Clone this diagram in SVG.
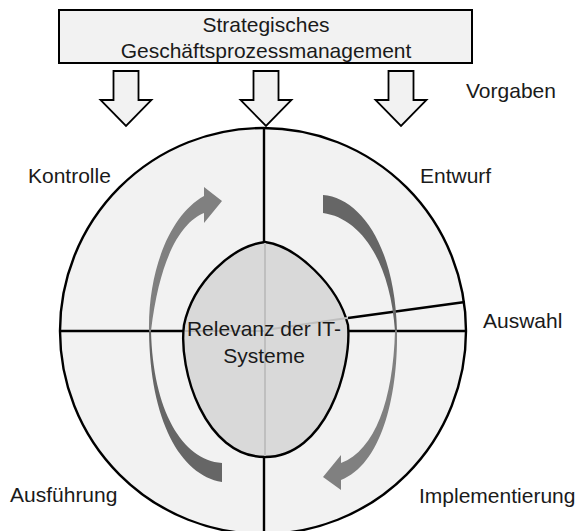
<svg xmlns="http://www.w3.org/2000/svg" width="588" height="531" viewBox="0 0 588 531">
<defs>
<style>
text{font-family:"Liberation Sans",Arial,sans-serif;font-size:21px;fill:#1a1a1a}
.c{text-anchor:middle}
.box{fill:#f2f2f2;stroke:#000;stroke-width:2}
.blk{fill:#f2f2f2;stroke:#000;stroke-width:1.8;stroke-linejoin:miter}
.div{stroke:#000;stroke-width:2.4;fill:none}
.faint{stroke:#bfbfbf;stroke-width:2;fill:none}
.dark{fill:#666666}
.mid{fill:#808080}
</style>
</defs>
<rect width="588" height="531" fill="#ffffff"/>

<g id="cycle">
<circle cx="263" cy="331" r="203" fill="#f2f2f2" stroke="#000" stroke-width="2.4"/>
<line class="div" x1="264" y1="128" x2="264" y2="242"/>
<line class="div" x1="264" y1="456" x2="264" y2="531"/>
<line class="div" x1="60" y1="331" x2="184" y2="331"/>
<line class="div" x1="348" y1="331" x2="466" y2="331"/>
<line class="div" x1="348" y1="318" x2="465" y2="302"/>
</g>

<g id="connectors">
<path id="arrow-top-1" class="blk" d="M113.5,71 H138.5 V100 H151.5 L126,126 L100.5,100 H113.5 Z"/>
<path id="arrow-top-2" class="blk" d="M253.5,71 H278.5 V100 H291.5 L266,126 L240.5,100 H253.5 Z"/>
<path id="arrow-top-3" class="blk" d="M388.5,71 H413.5 V100 H426.5 L401,126 L375.5,100 H388.5 Z"/>
<path id="arrow-kontrolle" class="mid" d="M149,331 C148,270 170,215 204,196 L204,187 L222,201 L204,223 L204,213 C182,222 160,255 151,331 Z"/>
<path id="arrow-ausfuehrung" class="dark" d="M149,331 C150,420 180,475 222,482 L222,463 C182,460 153,410 151,331 Z"/>
<path id="arrow-entwurf" class="dark" d="M323,195 C360,198 395,245 397,331 L395,331 C390,260 360,218 323,213 Z"/>
<path id="arrow-implementierung" class="mid" d="M397,331 C398,400 380,465 341,480 L341,490 L323,477 L341,455 L341,463 C375,450 393,400 395,331 Z"/>
</g>

<g id="center">
<path d="M265,242 C232,246 193,282 184,325 C178,370 205,457 265,457 C325,457 352,370 348,325 C338,285 296,246 265,242 Z" fill="#d9d9d9" stroke="#000" stroke-width="2.4"/>
<line class="faint" x1="265" y1="243" x2="265" y2="456"/>
<line class="faint" x1="185" y1="331" x2="265" y2="331"/>
<line class="faint" x1="265" y1="330" x2="347" y2="318"/>
<text class="c" x="264" y="336" font-size="19.5">Relevanz der IT-</text>
<text class="c" x="264" y="363" font-size="19.5">Systeme</text>
</g>

<g id="top-box">
<rect class="box" x="59" y="10" width="413" height="53"/>
<text class="c" x="266" y="32">Strategisches</text>
<text class="c" x="266" y="58">Geschäftsprozessmanagement</text>
</g>

<g id="label-vorgaben"><text x="466" y="98">Vorgaben</text></g>
<g id="label-kontrolle"><text x="28" y="183">Kontrolle</text></g>
<g id="label-entwurf"><text x="420" y="183">Entwurf</text></g>
<g id="label-auswahl"><text x="483" y="328">Auswahl</text></g>
<g id="label-ausfuehrung"><text x="10" y="502">Ausführung</text></g>
<g id="label-implementierung"><text x="419" y="503">Implementierung</text></g>
</svg>
